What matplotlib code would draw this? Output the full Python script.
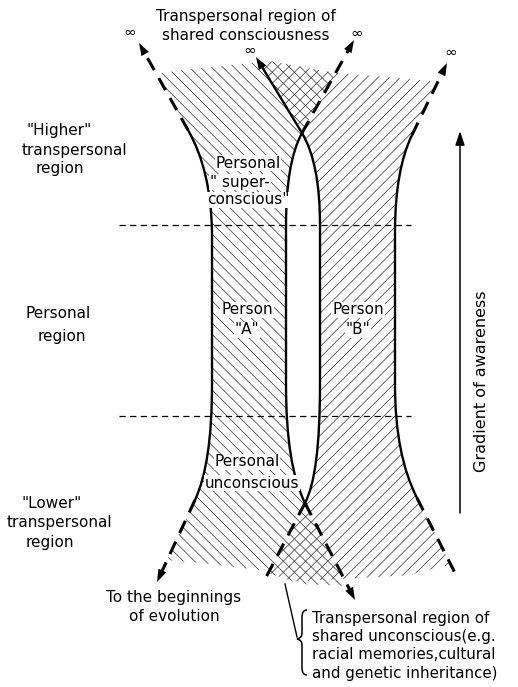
import numpy as np
import matplotlib
matplotlib.use("Agg")
import matplotlib.pyplot as plt
from matplotlib.path import Path
from matplotlib.patches import PathPatch, Polygon


# outlines of the two "person" tubes, in picture pixels (y down):
# top tip, top joint, ctrl, straight start, straight end, ctrl, bottom joint, bottom tip
a_left = [(139, 43), (188, 130), (211, 170), (212, 232),
          (212, 385), (212, 464), (195, 500), (157, 582)]
a_right = [(354, 40), (302, 133), (286, 162), (286, 225),
           (286, 385), (286, 466), (305, 503), (355, 600)]
b_left = [(256, 57), (302, 133), (320, 163), (320, 225),
          (320, 385), (320, 475), (305, 503), (263, 583)]
b_right = [(447, 63), (412, 135), (395, 170), (395, 232),
           (395, 385), (395, 455), (417, 498), (455, 573)]

# (top part style, bottom part style, arrow on top, arrow on bottom)
a_left_style = ("dashed", "dashed", True, True)
a_right_style = ("dashed", "dashed", True, True)
b_left_style = ("solid", "dashed", True, False)
b_right_style = ("dashed", "dashed", True, False)

# limits of the shading
top_edge = [(120, 78), (200, 68), (270, 61), (330, 72), (430, 81), (480, 84)]
bottom_edge = [(120, 556), (200, 563), (260, 570), (300, 584),
               (345, 586), (390, 580), (440, 567), (480, 560)]

# horizontal dashed boundaries of the personal region
region_lines = [225, 416]

title_lines = "Transpersonal region of\nshared consciousness"
infinity_marks = [(130, 32), (250, 50), (357, 33), (451, 52)]

left_labels = ['"Higher"', "transpersonal", "region",
               "Personal", "region",
               '"Lower"', "transpersonal", "region"]
left_label_pos = [(59, 131), (74, 150), (60, 169),
                  (58, 313), (62, 337),
                  (52, 503), (59, 522), (50, 542)]

inner_labels = ["Personal", '" super-', 'conscious"',
                "Person", '"A"', "Person", '"B"',
                "Personal", "unconscious"]
inner_label_pos = [(248, 163), (240, 182), (248, 200),
                   (247, 310), (247, 330), (358, 310), (358, 330),
                   (247, 462), (252, 483)]

evolution_text = "To the beginnings\nof evolution"
shared_unconscious_lines = ["Transpersonal region of",
                            "shared unconscious(e.g.",
                            "racial memories,cultural",
                            "and genetic inheritance)"]
gradient_text = "Gradient of awareness"


SOLID_CODES = [Path.MOVETO, Path.CURVE3, Path.CURVE3,
               Path.LINETO, Path.CURVE3, Path.CURVE3]
FULL_CODES = [Path.MOVETO, Path.LINETO] + SOLID_CODES[1:] + [Path.LINETO]


def flatten(points):
    return Path(points, FULL_CODES).to_polygons(closed_only=False)[0]


def arrow_head(ax, tip, joint):
    tip = np.array(tip, float)
    d = tip - np.array(joint, float)
    d /= np.hypot(*d)
    ax.annotate("", xy=tip, xytext=tip - 10 * d,
                arrowprops=dict(arrowstyle="-|>,head_length=0.65,head_width=0.22",
                                color="black", lw=0, shrinkA=0, shrinkB=0,
                                mutation_scale=14))


def draw_boundary(ax, points, style):
    top_ls, bottom_ls, top_arrow, bottom_arrow = style
    ax.add_patch(PathPatch(Path(points[1:7], SOLID_CODES), fc="none",
                           ec="black", lw=1.7, capstyle="round"))
    for tip, joint, ls, has_arrow in [(points[0], points[1], top_ls, top_arrow),
                                      (points[7], points[6], bottom_ls, bottom_arrow)]:
        tip_a = np.array(tip, float)
        joint_a = np.array(joint, float)
        d = tip_a - joint_a
        d /= np.hypot(*d)
        end = tip_a - 8 * d if has_arrow else tip_a
        if ls == "dashed":
            ax.plot([joint_a[0], end[0]], [joint_a[1], end[1]], color="black",
                    lw=2.2, dashes=(4.5, 3), solid_capstyle="butt")
        else:
            ax.plot([joint_a[0], end[0]], [joint_a[1], end[1]], color="black",
                    lw=1.7)
        if has_arrow:
            arrow_head(ax, tip, joint)


plt.rcParams["font.family"] = ["DejaVu Sans"]
plt.rcParams["hatch.linewidth"] = 0.5

fig = plt.figure(figsize=(5.18, 6.87), dpi=100)
ax = fig.add_axes([0, 0, 1, 1])
ax.set_xlim(0, 518)
ax.set_ylim(687, 0)
ax.axis("off")

band = Polygon(top_edge + bottom_edge[::-1], closed=True, transform=ax.transData)

region_a = np.vstack([flatten(a_left), flatten(a_right)[::-1]])
region_b = np.vstack([flatten(b_left), flatten(b_right)[::-1]])

for region, hatch in [(region_a, "\\\\\\"), (region_b, "///")]:
    shade = Polygon(region, closed=True, fc="none", ec="#333333", lw=0,
                    hatch=hatch)
    ax.add_patch(shade)
    shade.set_clip_path(band)

for y in region_lines:
    ax.plot([119, 411], [y, y], color="black", lw=0.9, dashes=(5, 3.5))

for pts, style in [(a_left, a_left_style), (a_right, a_right_style),
                   (b_left, b_left_style), (b_right, b_right_style)]:
    draw_boundary(ax, pts, style)

# gradient arrow
ax.annotate("", xy=(460, 131), xytext=(460, 513),
            arrowprops=dict(arrowstyle="-|>,head_length=0.6,head_width=0.2",
                            color="black", lw=1.1, shrinkA=0, shrinkB=0,
                            mutation_scale=14))
ax.text(481, 381, gradient_text, rotation=90, ha="center", va="center",
        fontsize=11.5)

ax.text(246, 26, title_lines, ha="center", va="center", fontsize=11,
        linespacing=1.4)
for x, y in infinity_marks:
    ax.text(x, y, "\u221e", ha="center", va="center", fontsize=11)

for label, (x, y) in zip(left_labels, left_label_pos):
    ax.text(x, y, label, ha="center", va="center", fontsize=11)

for label, (x, y) in zip(inner_labels, inner_label_pos):
    ax.text(x, y, label, ha="center", va="center", fontsize=11,
            bbox=dict(fc="white", ec="none", pad=0.6))

ax.text(174, 607, evolution_text, ha="center", va="center", fontsize=11,
        linespacing=1.4)

# brace and leader for the shared unconscious
brace = Path([(307, 610), (302, 610), (302, 617), (302, 633), (302, 638),
              (297, 639), (302, 640), (302, 645), (302, 668), (302, 675),
              (307, 675)],
             [Path.MOVETO, Path.CURVE3, Path.CURVE3, Path.LINETO, Path.CURVE3,
              Path.CURVE3, Path.CURVE3, Path.CURVE3, Path.LINETO, Path.CURVE3,
              Path.CURVE3])
ax.add_patch(PathPatch(brace, fc="none", ec="black", lw=1.1))
ax.plot([285, 297], [584, 637], color="black", lw=1.0)
for i, line in enumerate(shared_unconscious_lines):
    ax.text(312, 618 + 18.4 * i, line, ha="left", va="center", fontsize=10.8)

fig.savefig("out.png", dpi=100)
